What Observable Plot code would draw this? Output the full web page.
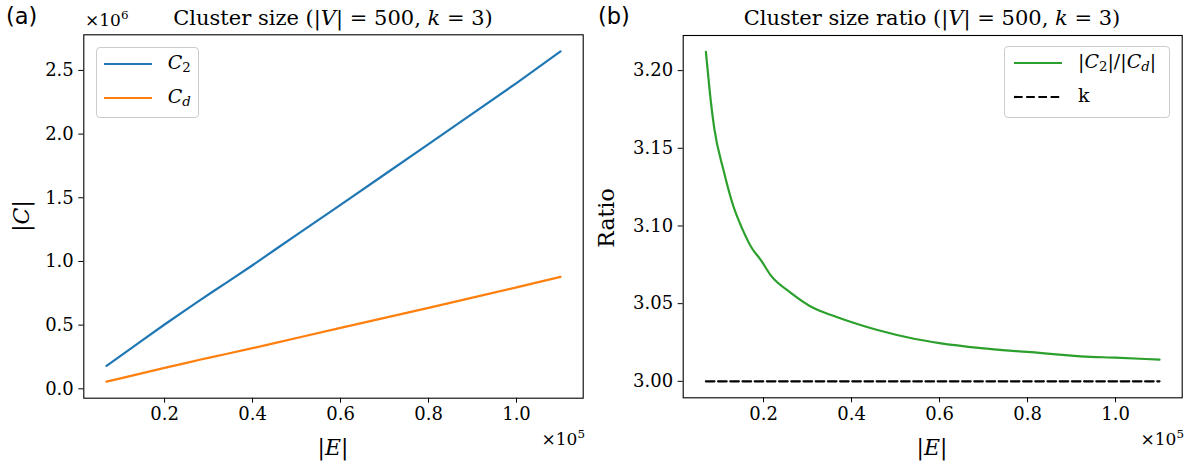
<!DOCTYPE html>
<html>
<head>
<meta charset="utf-8">
<script src="https://cdn.jsdelivr.net/npm/d3@7"></script>
<script src="https://cdn.jsdelivr.net/npm/@observablehq/plot@0.6"></script>
<style>
  html, body { margin: 0; padding: 0; background: white; }
  #wrap { position: relative; width: 1192px; height: 465px; overflow: hidden; background: white; }
  .abs { position: absolute; white-space: nowrap; color: black; line-height: 1; }
  .serif { font-family: 'DejaVu Serif', serif; }
  .sans { font-family: 'DejaVu Sans', sans-serif; }
  .legend { position: absolute; border: 1px solid #cccccc; border-radius: 4px; background: rgba(255,255,255,0.8); box-sizing: border-box; }
  .legend svg { position: absolute; }
  .legend .lab { position: absolute; font-family: 'DejaVu Serif', serif; font-size: 19px; line-height: 1; white-space: nowrap; }
  sub { font-size: 70%; vertical-align: -0.25em; line-height: 0; }
  sup { font-size: 70%; vertical-align: 0.55em; line-height: 0; }
  svg text { font-family: 'DejaVu Serif', serif; }
</style>
</head>
<body>
<div id="wrap">
  <div id="pa" class="abs" style="left:0;top:0"></div>
  <div id="pb" class="abs" style="left:596px;top:0"></div>
</div>
<script>
// ---- data ----
const E  = [6800, 10000, 15000, 20000, 25000, 28000, 31000, 34000, 40000, 45000, 51000, 60000, 70000, 80000, 90000, 100000, 110000];
const C2 = [180000, 259000, 383000, 505000, 624000, 694000, 764000, 832000, 970000, 1090000, 1232000, 1445000, 1683000, 1921000, 2161000, 2401000, 2650000];
const Cd = [56000, 82000, 123500, 164000, 204000, 228000, 251000, 273000, 319000, 359000, 406600, 478000, 557000, 636000, 716000, 796000, 879000];

const RE    = [6900, 7800, 8800, 10900, 13000, 15200, 17300, 19400, 21700, 26200, 31500, 36000, 40600, 45900, 54200, 60000, 69400, 80000, 92100, 100000, 110000];
const ratio = [3.212, 3.186, 3.163, 3.136, 3.114, 3.098, 3.086, 3.078, 3.068, 3.057, 3.047, 3.042, 3.0375, 3.033, 3.0274, 3.0246, 3.0214, 3.0189, 3.0161, 3.0152, 3.0140];
const kValue = 3;

const xTicks = [20000, 40000, 60000, 80000, 100000];
const yTicksA = [0, 500000, 1000000, 1500000, 2000000, 2500000];
const yTicksB = [3.00, 3.05, 3.10, 3.15, 3.20];

const colors = { C2: "#1f77b4", Cd: "#ff7f0e", ratio: "#2ca02c", k: "black" };

// ---- helpers ----
function pad(ext) { const r = ext[1] - ext[0]; return [ext[0] - 0.05 * r, ext[1] + 0.05 * r]; }
const c2Data = E.map((e, i) => ({ E: e, v: C2[i] }));
const cdData = E.map((e, i) => ({ E: e, v: Cd[i] }));
const ratioData = RE.map((e, i) => ({ E: e, v: ratio[i] }));
const kData = [{ E: RE[0], v: kValue }, { E: RE[RE.length - 1], v: kValue }];

const xDomA = pad(d3.extent(E));
const yDomA = pad(d3.extent([...C2, ...Cd]));
const xDomB = pad(d3.extent(RE));
const yDomB = pad(d3.extent([...ratio, kValue]));

const FS = 18;
const style = { fontFamily: "'DejaVu Serif', serif", fontSize: FS + "px", color: "black", background: "white", overflow: "visible" };

const plotA = Plot.plot({
  width: 596, height: 465,
  marginLeft: 83.3, marginRight: 13.3, marginTop: 34.3, marginBottom: 67.3,
  style,
  x: { domain: xDomA },
  y: { domain: yDomA },
  marks: [
    Plot.axisX(xTicks, { tickSize: 5, tickPadding: 4, tickFormat: d => (d / 1e5).toFixed(1), label: null, fontSize: FS }),
    Plot.axisY(yTicksA, { tickSize: 5, tickPadding: 5, tickFormat: d => (d / 1e6).toFixed(1), label: null, fontSize: FS }),
    Plot.line(c2Data, { x: "E", y: "v", stroke: colors.C2, strokeWidth: 2.2 }),
    Plot.line(cdData, { x: "E", y: "v", stroke: colors.Cd, strokeWidth: 2.2 }),
    Plot.frame({ stroke: "black", strokeWidth: 1.1 })
  ]
});
document.getElementById("pa").appendChild(plotA);

const plotB = Plot.plot({
  width: 596, height: 465,
  marginLeft: 86.7, marginRight: 10.3, marginTop: 35, marginBottom: 67.7,
  style,
  x: { domain: xDomB },
  y: { domain: yDomB },
  marks: [
    Plot.axisX(xTicks, { tickSize: 5, tickPadding: 4, tickFormat: d => (d / 1e5).toFixed(1), label: null, fontSize: FS }),
    Plot.axisY(yTicksB, { tickSize: 5, tickPadding: 5, tickFormat: d => d.toFixed(2), label: null, fontSize: FS }),
    Plot.line(kData, { x: "E", y: "v", stroke: colors.k, strokeWidth: 2.2, strokeDasharray: "8.6,3.6" }),
    Plot.line(ratioData, { x: "E", y: "v", stroke: colors.ratio, strokeWidth: 2.2, curve: "monotone-x" }),
    Plot.frame({ stroke: "black", strokeWidth: 1.1 })
  ]
});
document.getElementById("pb").appendChild(plotB);

// ---- text overlays ----
const wrap = document.getElementById("wrap");
function addText(html, css, cls) {
  const d = document.createElement("div");
  d.className = "abs " + (cls || "serif");
  d.innerHTML = html;
  Object.assign(d.style, css);
  wrap.appendChild(d);
  return d;
}
// panel labels
addText("(a)", { left: "6px", top: "5px", fontSize: "22.5px" }, "sans");
addText("(b)", { left: "598px", top: "5px", fontSize: "22.5px" }, "sans");
// titles
addText("Cluster size (|<i>V</i>| = 500, <i>k</i> = 3)", { left: "333px", top: "8px", fontSize: "21px", transform: "translateX(-50%)" });
addText("Cluster size ratio (|<i>V</i>| = 500, <i>k</i> = 3)", { left: "932px", top: "8px", fontSize: "21px", transform: "translateX(-50%)" });
// offsets
addText("×10<sup>6</sup>", { left: "85px", top: "12px", fontSize: "17px" });
addText("×10<sup>5</sup>", { right: "607px", top: "431px", fontSize: "17px" });
addText("×10<sup>5</sup>", { right: "8px", top: "431px", fontSize: "17px" });
// axis labels
addText("|<i>E</i>|", { left: "333px", top: "437px", fontSize: "22px", transform: "translateX(-50%)" });
addText("|<i>E</i>|", { left: "932px", top: "437px", fontSize: "22px", transform: "translateX(-50%)" });
addText("|<i>C</i>|", { left: "22px", top: "216px", fontSize: "22px", transform: "translate(-50%,-50%) rotate(-90deg)" });
addText("Ratio", { left: "607px", top: "218px", fontSize: "22px", transform: "translate(-50%,-50%) rotate(-90deg)" });

// legends
function legend(left, top, w, h, items, lineX, textX) {
  const box = document.createElement("div");
  box.className = "legend";
  Object.assign(box.style, { left: left + "px", top: top + "px", width: w + "px", height: h + "px" });
  items.forEach((it, i) => {
    const cy = 16.6 + i * 33.6;
    const svg = document.createElementNS("http://www.w3.org/2000/svg", "svg");
    svg.setAttribute("width", 50); svg.setAttribute("height", 6);
    svg.style.left = lineX + "px"; svg.style.top = (cy - 3) + "px";
    const ln = document.createElementNS("http://www.w3.org/2000/svg", "line");
    ln.setAttribute("x1", 0); ln.setAttribute("x2", 48); ln.setAttribute("y1", 3); ln.setAttribute("y2", 3);
    ln.setAttribute("stroke", it.color); ln.setAttribute("stroke-width", 2.2);
    if (it.dash) ln.setAttribute("stroke-dasharray", it.dash);
    svg.appendChild(ln);
    box.appendChild(svg);
    const lab = document.createElement("div");
    lab.className = "lab";
    lab.innerHTML = it.label;
    lab.style.left = textX + "px";
    lab.style.top = (cy - 11) + "px";
    box.appendChild(lab);
  });
  wrap.appendChild(box);
}
legend(95.7, 46.7, 103.6, 71.6, [
  { label: "<i>C</i><sub>2</sub>", color: colors.C2 },
  { label: "<i>C</i><sub><i>d</i></sub>", color: colors.Cd }
], 7, 71);
legend(1004, 45.7, 166, 72.6, [
  { label: "|<i>C</i><sub>2</sub>|/|<i>C</i><sub><i>d</i></sub>|", color: colors.ratio },
  { label: "k", color: colors.k, dash: "8.6,3.6" }
], 8.7, 73);
</script>
</body>
</html>
